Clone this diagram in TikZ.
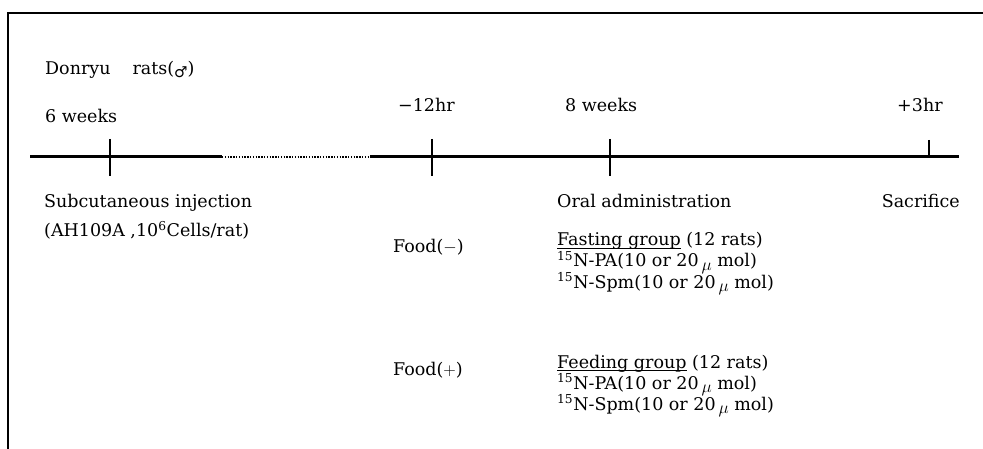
\documentclass[tikz,border=0pt]{standalone}
\usepackage{fontspec}
\setmainfont{DejaVu Serif}
\newfontfamily\symfnt{DejaVu Sans}
\usetikzlibrary{positioning}

\newcommand\grpul[1]{\setbox0\hbox{#1}\rlap{\rule[-2.5pt]{\wd0}{0.9pt}}\box0\relax}
\newcommand\umol{\,\raisebox{-3pt}{$\mu$} mol}

\begin{document}
\begin{tikzpicture}[
  x=1pt, y=-1pt,
  node distance=21pt,
  txt/.style={anchor=base west, inner sep=0pt, font=\fontsize{17.5}{21}\selectfont},
  axis/.style={line width=3pt},
  gap/.style={line width=2.2pt, dash pattern=on 1.4pt off 1.4pt},
  bar/.style={line width=2.2pt},
  frame/.style={line width=2pt}
]
\useasboundingbox (0,0) rectangle (983,449);
% frame
\draw[frame] (983,13) -- (8,13) -- (8,449);
% time line
\coordinate (t0) at (30,157);
\coordinate (d0) at (222,157);
\coordinate (d1) at (370,157);
\coordinate (t1) at (959,157);
\draw[axis] (t0) -- (d0);
\draw[gap] (d0) -- (d1);
\draw[axis] (d1) -- (t1);
\foreach \x in {110,432,610}
  \draw[bar] (\x,139) -- (\x,176);
\draw[bar] (929,140) -- (929,157);
% labels above
\node[txt] (strain) at (45,75) {Donryu\hspace{22pt}rats(\raisebox{-2.5pt}{\symfnt\fontsize{15}{15}\selectfont ♂})};
\node[txt] (w6) at (45,122.5) {6 weeks};
\node[txt] (m12) at (398,111.5) {−12hr};
\node[txt] (w8) at (565,112) {8 weeks};
\node[txt] (p3) at (897,112) {+3hr};
% labels below
\node[txt] (inj) at (44,208) {Subcutaneous injection};
\node[txt, below=29pt of inj.base west, anchor=base west] (cells) {(AH109A ,10\textsuperscript{6}Cells/rat)};
\node[txt] (oral) at (557,208) {Oral administration};
\node[txt, anchor=base east] (sac) at (960,208) {Sacrifice};
% groups
\node[txt] (fneg) at (393,253) {Food($-$)};
\node[txt] (fast) at (557,246) {\grpul{Fasting group} (12 rats)};
\node[txt, below=of fast.base west, anchor=base west] (fastpa) {\textsuperscript{15}N-PA(10 or 20\umol)};
\node[txt, below=of fastpa.base west, anchor=base west] (fastspm) {\textsuperscript{15}N-Spm(10 or 20\umol)};
\node[txt] (fpos) at (393,375) {Food($+$)};
\node[txt] (feed) at (557,368) {\grpul{Feeding group} (12 rats)};
\node[txt, below=of feed.base west, anchor=base west] (feedpa) {\textsuperscript{15}N-PA(10 or 20\umol)};
\node[txt, below=of feedpa.base west, anchor=base west] (feedspm) {\textsuperscript{15}N-Spm(10 or 20\umol)};
\end{tikzpicture}
\end{document}
